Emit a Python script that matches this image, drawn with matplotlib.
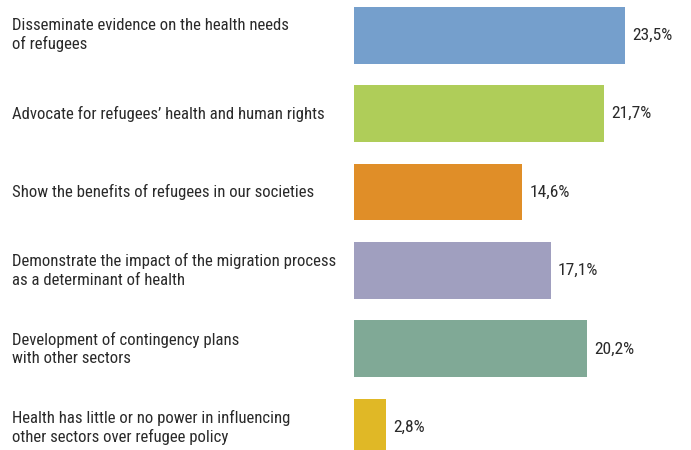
import matplotlib
matplotlib.use("Agg")
import matplotlib.pyplot as plt
from matplotlib.transforms import blended_transform_factory

categories = [
    "Disseminate evidence on the health needs\nof refugees",
    "Advocate for refugees\u2019 health and human rights",
    "Show the benefits of refugees in our societies",
    "Demonstrate the impact of the migration process\nas a determinant of health",
    "Development of contingency plans\nwith other sectors",
    "Health has little or no power in influencing\nother sectors over refugee policy",
]
values = [23.5, 21.7, 14.6, 17.1, 20.2, 2.8]
value_labels = ["23,5%", "21,7%", "14,6%", "17,1%", "20,2%", "2,8%"]
colors = ["#759fcc", "#afcd59", "#e08e28", "#a09fbf", "#80a996", "#e0b826"]

family = ["Roboto Condensed", "Archivo Narrow", "DejaVu Sans"]

fig = plt.figure(figsize=(6.91, 4.5), dpi=100)
ax = fig.add_axes([0, 0, 1, 1])
ypos = list(range(len(values)))
ax.barh(ypos, values, height=0.726, color=colors)
ax.set_xlim(-30.7, 29.23)
ax.set_ylim(5.287, -0.446)
ax.axis("off")

trans = blended_transform_factory(ax.transAxes, ax.transData)
for y, cat in zip(ypos, categories):
    ax.text(12 / 691, y, cat, transform=trans, ha="left", va="center",
            fontsize=12.1, family=family, weight="normal", color="#2a2a2a",
            linespacing=1.28)
for y, v, lab in zip(ypos, values, value_labels):
    ax.text(v + 0.6, y, lab, ha="left", va="center", fontsize=12.6,
            family=family, weight="normal", color="#2a2a2a")

fig.savefig("out.png", dpi=100)
